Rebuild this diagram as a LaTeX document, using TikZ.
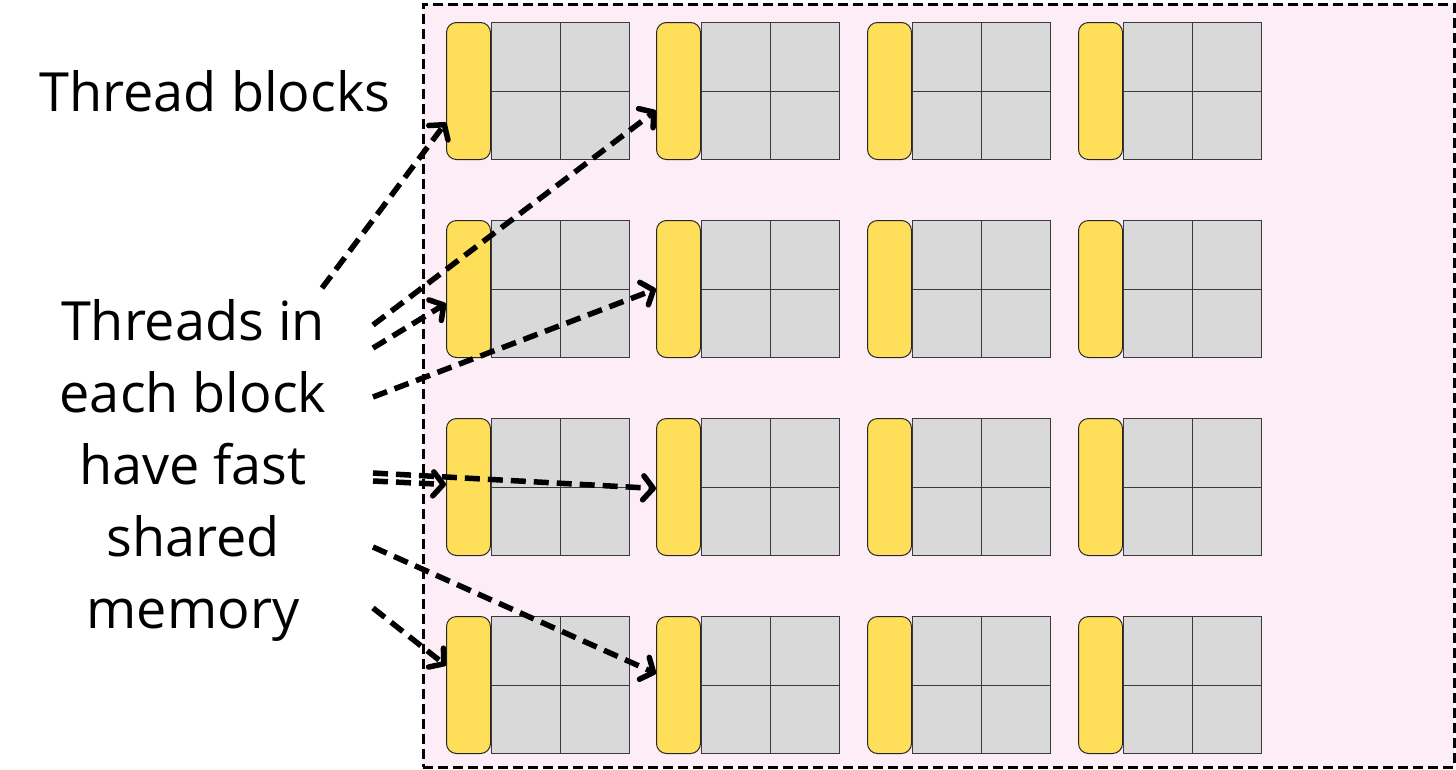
\documentclass[tikz,border=0pt]{standalone}
\usepackage{fontspec}
\setmainfont{Open Sans}
\usetikzlibrary{arrows.meta,calc}
\definecolor{pinkbg}{HTML}{FDEDF7}
\definecolor{memyellow}{HTML}{FFDE59}
\definecolor{cellgrey}{HTML}{D9D9D9}
\definecolor{celledge}{HTML}{3A3A3A}
\tikzset{
  shmem/.style={draw=black!85, line width=1pt, fill=memyellow, rounded corners=10pt,
    minimum width=44pt, minimum height=137pt, inner sep=0pt, anchor=north west},
  thcell/.style={draw=celledge, line width=1.2pt, fill=cellgrey,
    minimum width=69pt, minimum height=68.5pt, inner sep=0pt, anchor=north west},
  grid border/.style={draw=black, line width=3.5pt, dash pattern=on 10pt off 5pt, fill=pinkbg},
  conn/.style={line width=5.5pt, dash pattern=on 15pt off 8pt,
    -{Straight Barb[length=10pt,width=24pt,line width=5.5pt,line cap=round,line join=round]}},
  lbl/.style={font=\fontsize{54}{72}\selectfont, text=black, inner sep=0pt}
}
\begin{document}
\begin{tikzpicture}[x=1pt,y=-1pt]
\useasboundingbox (0,0) rectangle (1456,769);
\node[grid border, minimum width=1031pt, minimum height=763pt, anchor=north west, inner sep=0pt] (frame) at (421.5,2.5) {};
\foreach \r/\yy in {1/22,2/220,3/418,4/616}{
  \foreach \c/\xx in {1/446,2/656,3/867,4/1078}{
    \node[shmem] (Y\r\c) at (\xx,\yy) {};
    \node[thcell] (C\r\c a) at (\xx+45,\yy) {};
    \node[thcell] (C\r\c b) at (\xx+114,\yy) {};
    \node[thcell] (C\r\c c) at (\xx+45,\yy+68.5) {};
    \node[thcell] (C\r\c d) at (\xx+114,\yy+68.5) {};
  }
}
\node[lbl, anchor=base] (tb) at (215,111) {Thread blocks};
\node[lbl, anchor=base, align=center] (tx) at (193,628) {Threads in\\each block\\have fast\\shared\\memory};
\coordinate (s1) at (322,288);
\coordinate (s2) at (373,325);
\coordinate (s3) at (373,348);
\coordinate (s4) at (373,397);
\coordinate (s5) at (373,481);
\coordinate (s6) at (373,473);
\coordinate (s7) at (373,547);
\coordinate (s8) at (373,608);
\draw[conn] (s1) -- ([yshift=-31.5pt]Y11.west);
\draw[conn] (s2) -- ([yshift=-19.5pt]Y12.west);
\draw[conn] (s3) -- ([yshift=-14.5pt]Y21.west);
\draw[conn] (s4) -- (Y22.west);
\draw[conn] (s5) -- ([yshift=2.5pt]Y31.west);
\draw[conn] (s6) -- ([yshift=-1.5pt]Y32.west);
\draw[conn] (s7) -- ([yshift=11.5pt]Y42.west);
\draw[conn] (s8) -- ([yshift=19.5pt]Y41.west);
\end{tikzpicture}
\end{document}
